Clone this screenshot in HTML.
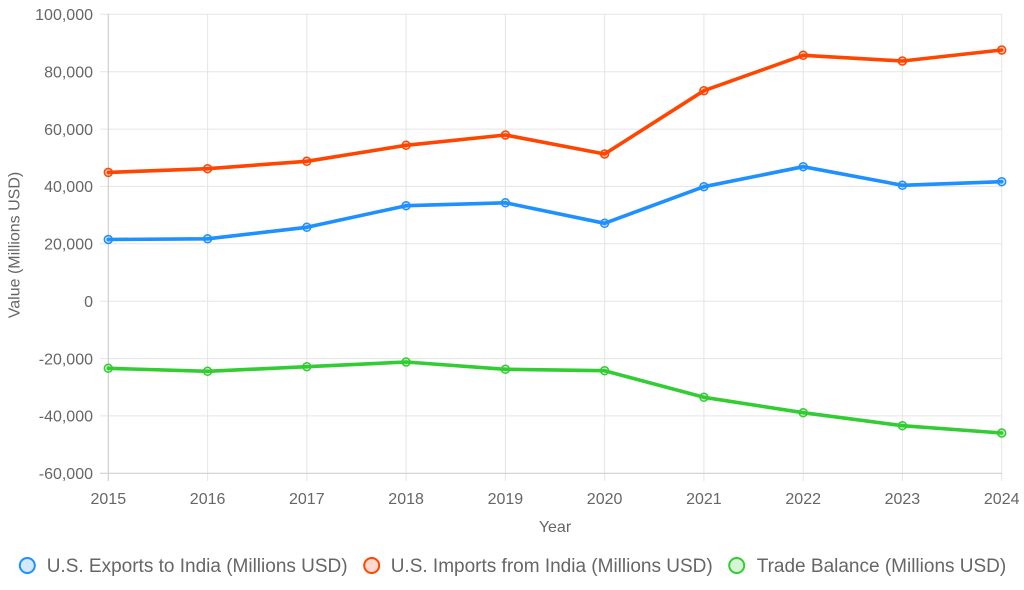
<!DOCTYPE html>
<html>
<head>
<meta charset="utf-8">
<style>
html,body{margin:0;padding:0;background:#fff;}
svg{display:block;}
text{font-family:"Liberation Sans",Arial,sans-serif;fill:#666;}
</style>
</head>
<body>
<svg width="1024" height="590" viewBox="0 0 1024 590" xmlns="http://www.w3.org/2000/svg">
  <!-- horizontal grid -->
  <g stroke="#e5e5e5" stroke-width="1">
    <line x1="100" y1="14.3" x2="1002" y2="14.3"/>
    <line x1="100" y1="71.7" x2="1002" y2="71.7"/>
    <line x1="100" y1="129.1" x2="1002" y2="129.1"/>
    <line x1="100" y1="186.4" x2="1002" y2="186.4"/>
    <line x1="100" y1="243.8" x2="1002" y2="243.8"/>
    <line x1="100" y1="301.2" x2="1002" y2="301.2"/>
    <line x1="100" y1="358.6" x2="1002" y2="358.6"/>
    <line x1="100" y1="415.9" x2="1002" y2="415.9"/>
  </g>
  <!-- vertical grid -->
  <g stroke="#e5e5e5" stroke-width="1">
    <line x1="207.6" y1="14" x2="207.6" y2="481"/>
    <line x1="306.8" y1="14" x2="306.8" y2="481"/>
    <line x1="406.1" y1="14" x2="406.1" y2="481"/>
    <line x1="505.4" y1="14" x2="505.4" y2="481"/>
    <line x1="604.6" y1="14" x2="604.6" y2="481"/>
    <line x1="703.9" y1="14" x2="703.9" y2="481"/>
    <line x1="803.2" y1="14" x2="803.2" y2="481"/>
    <line x1="902.4" y1="14" x2="902.4" y2="481"/>
    <line x1="1001.7" y1="14" x2="1001.7" y2="481"/>
  </g>
  <!-- axes -->
  <g stroke="#d0d0d0" stroke-width="1.2">
    <line x1="108.3" y1="14" x2="108.3" y2="481"/>
    <line x1="100" y1="473.3" x2="1002" y2="473.3"/>
  </g>

  <!-- y tick labels -->
  <g font-size="16" text-anchor="end">
    <text x="93" y="20">100,000</text>
    <text x="93" y="77.4">80,000</text>
    <text x="93" y="134.8">60,000</text>
    <text x="93" y="192.1">40,000</text>
    <text x="93" y="249.5">20,000</text>
    <text x="93" y="306.9">0</text>
    <text x="93" y="364.3">-20,000</text>
    <text x="93" y="421.6">-40,000</text>
    <text x="93" y="479">-60,000</text>
  </g>
  <!-- x tick labels -->
  <g font-size="16" text-anchor="middle">
    <text x="108.3" y="504">2015</text>
    <text x="207.6" y="504">2016</text>
    <text x="306.8" y="504">2017</text>
    <text x="406.1" y="504">2018</text>
    <text x="505.4" y="504">2019</text>
    <text x="604.6" y="504">2020</text>
    <text x="703.9" y="504">2021</text>
    <text x="803.2" y="504">2022</text>
    <text x="902.4" y="504">2023</text>
    <text x="1001.7" y="504">2024</text>
  </g>
  <!-- axis titles -->
  <text x="555" y="532" font-size="16" text-anchor="middle">Year</text>
  <text transform="translate(19.5,245) rotate(-90)" x="0" y="0" font-size="16" text-anchor="middle">Value (Millions USD)</text>

  <!-- series: imports -->
  <polyline fill="none" stroke="#ff4500" stroke-width="3.6" stroke-linejoin="round" stroke-linecap="round"
    points="108.3,172.4 207.6,168.7 306.8,161.3 406.1,145.3 505.4,135 604.6,154 703.9,90.7 803.2,55.3 902.4,61 1001.7,50"/>
  <g fill="rgba(255,69,0,0.25)" stroke="#ff4500" stroke-width="1.5">
    <circle cx="108.3" cy="172.4" r="4"/><circle cx="207.6" cy="168.7" r="4"/><circle cx="306.8" cy="161.3" r="4"/>
    <circle cx="406.1" cy="145.3" r="4"/><circle cx="505.4" cy="135" r="4"/><circle cx="604.6" cy="154" r="4"/>
    <circle cx="703.9" cy="90.7" r="4"/><circle cx="803.2" cy="55.3" r="4"/><circle cx="902.4" cy="61" r="4"/>
    <circle cx="1001.7" cy="50" r="4"/>
  </g>

  <!-- series: exports -->
  <polyline fill="none" stroke="#1e90ff" stroke-width="3.6" stroke-linejoin="round" stroke-linecap="round"
    points="108.3,239.5 207.6,238.8 306.8,227.3 406.1,205.7 505.4,202.8 604.6,223.3 703.9,186.7 803.2,166.7 902.4,185.3 1001.7,181.7"/>
  <g fill="rgba(30,144,255,0.25)" stroke="#1e90ff" stroke-width="1.5">
    <circle cx="108.3" cy="239.5" r="4"/><circle cx="207.6" cy="238.8" r="4"/><circle cx="306.8" cy="227.3" r="4"/>
    <circle cx="406.1" cy="205.7" r="4"/><circle cx="505.4" cy="202.8" r="4"/><circle cx="604.6" cy="223.3" r="4"/>
    <circle cx="703.9" cy="186.7" r="4"/><circle cx="803.2" cy="166.7" r="4"/><circle cx="902.4" cy="185.3" r="4"/>
    <circle cx="1001.7" cy="181.7" r="4"/>
  </g>

  <!-- series: trade balance -->
  <polyline fill="none" stroke="#32cd32" stroke-width="3.6" stroke-linejoin="round" stroke-linecap="round"
    points="108.3,368.3 207.6,371.3 306.8,366.7 406.1,362 505.4,369.3 604.6,370.7 703.9,397.3 803.2,412.7 902.4,425.7 1001.7,433"/>
  <g fill="rgba(50,205,50,0.25)" stroke="#32cd32" stroke-width="1.5">
    <circle cx="108.3" cy="368.3" r="4"/><circle cx="207.6" cy="371.3" r="4"/><circle cx="306.8" cy="366.7" r="4"/>
    <circle cx="406.1" cy="362" r="4"/><circle cx="505.4" cy="369.3" r="4"/><circle cx="604.6" cy="370.7" r="4"/>
    <circle cx="703.9" cy="397.3" r="4"/><circle cx="803.2" cy="412.7" r="4"/><circle cx="902.4" cy="425.7" r="4"/>
    <circle cx="1001.7" cy="433" r="4"/>
  </g>

  <!-- legend -->
  <g stroke-width="2">
    <circle cx="27.3" cy="565.5" r="7.5" fill="#d2e9ff" stroke="#1e90ff"/>
    <circle cx="371.7" cy="565.5" r="7.5" fill="#ffdacc" stroke="#ff4500"/>
    <circle cx="736.7" cy="565.5" r="7.5" fill="#d6f5d6" stroke="#32cd32"/>
  </g>
  <g font-size="19">
    <text x="46.7" y="572">U.S. Exports to India (Millions USD)</text>
    <text x="390.7" y="572">U.S. Imports from India (Millions USD)</text>
    <text x="756.7" y="572">Trade Balance (Millions USD)</text>
  </g>
</svg>
</body>
</html>
